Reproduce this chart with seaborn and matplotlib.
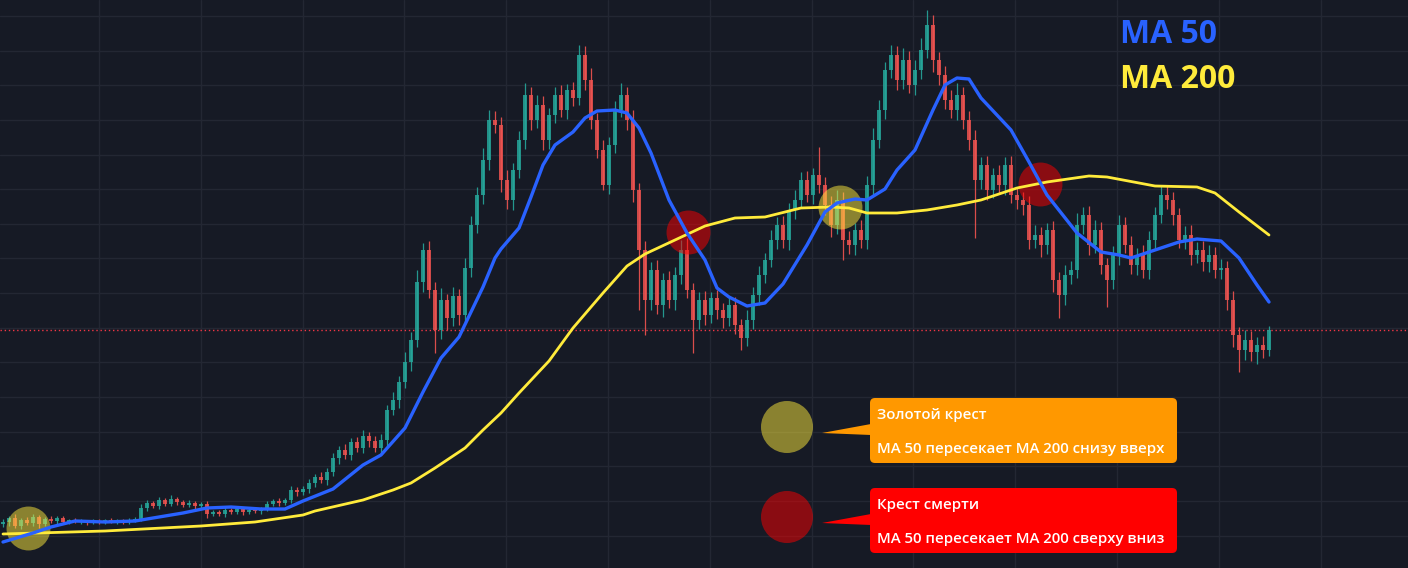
import numpy as np
import pandas as pd
import matplotlib
matplotlib.use("Agg")
import matplotlib.pyplot as plt
from matplotlib.patches import FancyBboxPatch, Polygon, Circle
import seaborn as sns

# ---- candles (price in chart units, one candle per bar) ----
close = [
    46, 50, 42, 48, 45, 51, 44, 49, 47, 50,
    46, 48, 46, 47, 45, 47, 46, 48, 46, 47,
    46, 48, 49, 60, 65, 62, 68, 64, 69, 66,
    63, 65, 62, 64, 54, 56, 54, 58, 56, 59,
    56, 58, 57, 59, 64, 67, 65, 68, 78, 76,
    79, 85, 91, 88, 96, 110, 118, 113, 126, 120,
    132, 127, 120, 128, 158, 168, 186, 206, 228, 286,
    318, 278, 238, 268, 250, 272, 253, 300, 343, 373,
    408, 448, 443, 388, 368, 398, 428, 473, 448, 463,
    428, 453, 473, 458, 478, 470, 513, 488, 448, 418,
    383, 423, 458, 473, 448, 378, 318, 268, 298, 263,
    288, 268, 293, 318, 278, 248, 268, 253, 270, 258,
    250, 263, 243, 230, 248, 273, 293, 308, 328, 343,
    328, 358, 368, 388, 373, 393, 383, 363, 343, 368,
    328, 323, 338, 328, 383, 428, 458, 498, 513, 488,
    508, 483, 498, 518, 543, 508, 493, 468, 458, 473,
    448, 428, 388, 403, 378, 393, 383, 403, 373, 368,
    363, 328, 333, 323, 338, 288, 273, 293, 298, 343,
    353, 323, 338, 303, 288, 313, 343, 323, 303, 313,
    298, 328, 353, 373, 368, 353, 328, 333, 313, 318,
    306, 313, 298, 300, 268, 233, 218, 228, 216, 223,
    218, 238,
]
upper_wick = [
    3, 2, 4, 2, 3, 3, 2, 2, 3, 2,
    2, 1, 2, 2, 1, 2, 2, 1, 2, 2,
    2, 2, 2, 4, 3, 2, 3, 2, 4, 2,
    2, 3, 2, 2, 3, 2, 2, 3, 2, 2,
    2, 3, 2, 2, 3, 2, 3, 2, 4, 3,
    3, 4, 3, 5, 4, 5, 4, 6, 4, 5,
    6, 4, 5, 6, 5, 8, 6, 10, 8, 12,
    7, 9, 8, 12, 6, 9, 7, 10, 9, 8,
    12, 10, 9, 8, 10, 7, 9, 12, 8, 10,
    9, 7, 8, 10, 6, 8, 10, 9, 12, 7,
    10, 8, 9, 12, 8, 10, 7, 9, 8, 10,
    7, 9, 8, 10, 12, 7, 8, 9, 6, 8,
    7, 9, 8, 6, 10, 8, 9, 7, 10, 8,
    9, 7, 10, 8, 9, 7, 28, 8, 9, 10,
    8, 9, 7, 10, 9, 12, 10, 8, 10, 9,
    12, 9, 10, 12, 15, 10, 8, 9, 10, 12,
    8, 9, 10, 8, 9, 7, 10, 8, 9, 7,
    8, 9, 10, 8, 7, 9, 8, 10, 9, 12,
    8, 9, 10, 8, 7, 9, 10, 8, 9, 7,
    10, 9, 8, 10, 9, 8, 7, 9, 10, 8,
    9, 10, 8, 9, 7, 9, 8, 10, 9, 8,
    9, 4,
]
lower_wick = [
    3, 4, 2, 3, 2, 3, 4, 2, 2, 3,
    2, 2, 1, 2, 2, 1, 2, 2, 1, 2,
    2, 2, 2, 2, 3, 2, 3, 2, 2, 3,
    2, 2, 3, 2, 4, 2, 2, 3, 2, 2,
    3, 2, 2, 3, 2, 2, 3, 2, 3, 4,
    3, 4, 4, 3, 5, 4, 6, 4, 5, 4,
    5, 6, 4, 5, 6, 5, 8, 6, 9, 7,
    10, 8, 23, 9, 12, 8, 10, 7, 9, 8,
    9, 10, 8, 12, 9, 10, 8, 9, 10, 8,
    10, 9, 8, 7, 9, 8, 7, 10, 9, 8,
    5, 9, 8, 7, 10, 12, 60, 35, 10, 9,
    12, 8, 10, 9, 8, 33, 9, 10, 8, 9,
    10, 8, 9, 12, 8, 9, 10, 8, 7, 9,
    8, 10, 9, 8, 7, 9, 8, 10, 12, 9,
    20, 9, 10, 8, 9, 10, 8, 9, 8, 10,
    9, 8, 10, 9, 8, 12, 10, 9, 8, 10,
    9, 10, 58, 9, 10, 8, 9, 10, 8, 9,
    10, 9, 8, 12, 9, 12, 23, 10, 9, 8,
    9, 10, 8, 9, 27, 9, 10, 8, 9, 10,
    8, 9, 10, 8, 9, 10, 8, 9, 10, 8,
    9, 10, 8, 9, 10, 12, 22, 10, 9, 12,
    8, 6,
]
first_open = 44

# ---- moving averages, read at selected candles ----
ma50_idx = [0, 5, 8, 12, 17, 22, 25, 30, 34, 38, 43, 47, 50, 55, 60, 63, 67, 70,
            73, 76, 78, 80, 82, 83, 86, 88, 90, 92, 95, 97, 99, 102, 104, 106, 108,
            111, 114, 117, 119, 121, 124, 127, 130, 134, 137, 139, 142, 144, 147,
            149, 152, 155, 157, 159, 161, 163, 168, 171, 174, 179, 183, 186, 188,
            191, 196, 199, 203, 206, 209, 211]
ma50 = [26, 35, 41, 47, 46, 47, 50, 55, 60, 61, 59, 59, 67, 79, 103, 113, 140, 176,
        210, 231, 256, 281, 310, 319, 340, 371, 403, 423, 436, 450, 457, 458, 455,
        440, 415, 368, 335, 308, 280, 271, 262, 265, 284, 323, 356, 365, 369, 368,
        379, 398, 418, 458, 483, 490, 489, 470, 438, 406, 373, 335, 316, 313, 310,
        316, 326, 329, 327, 310, 283, 266]
ma200_idx = [0, 17, 33, 42, 50, 52, 60, 65, 68, 72, 77, 80, 83, 86, 91, 95, 100,
             104, 107, 112, 117, 122, 127, 133, 138, 141, 144, 149, 154, 159, 163,
             169, 174, 181, 184, 192, 199, 202, 206, 211]
ma200 = [34, 37, 42, 46, 53, 57, 68, 78, 85, 100, 120, 138, 155, 175, 207, 240,
         275, 302, 314, 328, 342, 350, 351, 360, 361, 360, 355, 355, 358, 363, 368,
         380, 386, 392, 391, 382, 381, 375, 356, 333]

# ---- crossings ----
cross_idx = [4.2, 114.2, 139.5, 172.8]
cross_price = [40, 336, 361, 384]
cross_kind = ["golden", "death", "golden", "death"]

legend_titles = ["Золотой крест", "Крест смерти"]
legend_texts = ["MA 50 пересекает MA 200 снизу вверх",
                "MA 50 пересекает MA 200 сверху вниз"]

bg = "#161a25"
green, red = "#26a69a", "#ef5350"
blue, yellow = "#2962ff", "#ffeb3b"

sns.set_theme(style="darkgrid", rc={"axes.facecolor": bg, "figure.facecolor": bg,
                                    "grid.color": "#232733"})
plt.rcParams["font.family"] = ["Open Sans", "DejaVu Sans"]

df = pd.DataFrame({"close": close, "upper": upper_wick, "lower": lower_wick})
df["open"] = df["close"].shift(1).fillna(first_open)
df["idx"] = np.arange(len(df))
body_lo = df[["open", "close"]].min(axis=1)
body_hi = df[["open", "close"]].max(axis=1)
df["high"] = body_hi + df["upper"]
df["low"] = body_lo - df["lower"]
colors = np.where(df["close"] >= df["open"], green, red)

fig = plt.figure(figsize=(14.08, 5.68), dpi=100)
ax = fig.add_axes([0, 0, 1, 1])

# candles
ax.vlines(df["idx"], df["low"], df["high"], colors=colors, lw=0.9, alpha=0.9, zorder=2)
ax.bar(df["idx"], (body_hi - body_lo).clip(lower=1), bottom=body_lo, width=0.6,
       color=colors, linewidth=0, alpha=0.85, zorder=2)

# crossing markers
for i, p, k in zip(cross_idx, cross_price, cross_kind):
    c = yellow if k == "golden" else "#ff0000"
    ax.scatter([i], [p], s=1000, color=c, alpha=0.5, linewidths=0, zorder=3)

# moving averages
sns.lineplot(x=ma50_idx, y=ma50, ax=ax, color=blue, lw=2.4, zorder=5)
sns.lineplot(x=ma200_idx, y=ma200, ax=ax, color=yellow, lw=2.0, zorder=4)

# last price line
ax.axhline(close[-1], color="#f23645", lw=1, ls=(0, (1, 2)), zorder=1)

ax.set_xlim(-0.5, (1408 - 3) / 6)
ax.set_ylim(0, 568)
ax.set_xticks((np.arange(99, 1408, 101.8) - 3) / 6)
ax.set_yticks(568 - np.arange(16, 568, 34.64))
ax.grid(True, color="#232733", lw=1)
ax.tick_params(length=0, labelbottom=False, labelleft=False)
for s in ax.spines.values():
    s.set_visible(False)

# overlay in pixel coordinates for labels and legend callouts
ov = fig.add_axes([0, 0, 1, 1])
ov.set_xlim(0, 1408)
ov.set_ylim(568, 0)
ov.axis("off")
ov.patch.set_alpha(0)

ov.text(1120, 43, "MA 50", color=blue, fontsize=23, fontweight="bold", va="baseline")
ov.text(1120, 88, "MA 200", color=yellow, fontsize=23, fontweight="bold", va="baseline")

box_colors = ["#ff9800", "#ff0000"]
circle_colors = [yellow, "#ff0000"]
box_top = [398, 488]
for j in range(2):
    y0 = box_top[j]
    ov.add_patch(Circle((787, y0 + 29), 26, color=circle_colors[j], alpha=0.5, lw=0))
    ov.add_patch(FancyBboxPatch((870, y0), 307, 65, boxstyle="round,pad=0,rounding_size=5",
                                color=box_colors[j], lw=0))
    ov.add_patch(Polygon([(822, y0 + 35), (871, y0 + 26), (871, y0 + 37)],
                         closed=True, color=box_colors[j], lw=0))
    ov.text(877, y0 + 21, legend_titles[j], color="white", fontsize=10.8,
            fontweight="semibold", va="baseline")
    ov.text(877, y0 + 55, legend_texts[j], color="white", fontsize=10.8,
            fontweight="semibold", va="baseline")

fig.savefig("out.png", dpi=100, facecolor=bg)
